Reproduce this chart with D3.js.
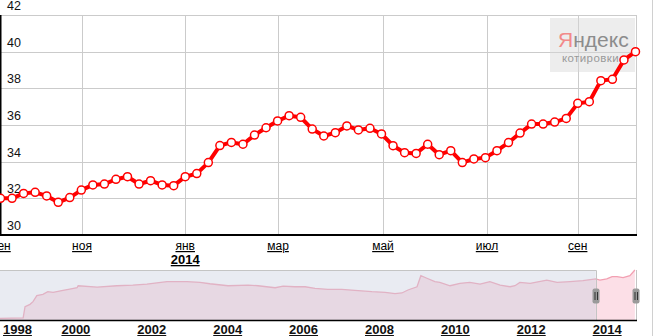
<!DOCTYPE html>
<html>
<head>
<meta charset="utf-8">
<script src="https://cdn.jsdelivr.net/npm/d3@7"></script>
<style>
  body { margin: 0; background: #fff; }
  svg { display: block; font-family: Arial, "Liberation Sans", sans-serif; }
</style>
</head>
<body>
<svg width="657" height="336"></svg>
<script>
// weekly quotes, Sep 2013 - Sep 2014
const rates = [32.0, 32.0, 32.27, 32.33, 32.13, 31.78, 32.04, 32.45, 32.73, 32.78,
  33.04, 33.18, 32.78, 32.96, 32.73, 32.69, 33.18, 33.35, 33.95, 34.88,
  35.05, 34.95, 35.45, 35.85, 36.22, 36.51, 36.42, 35.78, 35.4, 35.58,
  35.95, 35.73, 35.82, 35.51, 34.87, 34.49, 34.45, 34.95, 34.38, 34.6,
  33.95, 34.15, 34.22, 34.6, 35.04, 35.56, 36.05, 36.05, 36.16, 36.36,
  37.18, 37.27, 38.42, 38.49, 39.55, 40.0];
const monthLabels = ['сен', 'ноя', 'янв', 'мар', 'май', 'июл', 'сен'];
const monthPos = [0.05, 7.06, 16, 24.04, 33.13, 42.14, 50]; // week index
const yTicks = [30, 32, 34, 36, 38, 40, 42];

// navigator, whole history
const navYears = [1998.0, 1998.61, 1998.66, 1998.79, 1998.87, 1998.97, 1999.13, 1999.26, 1999.4, 1999.66,
  1999.84, 2000.03, 2000.06, 2000.56, 2001.08, 2001.5, 2001.87, 2002.4, 2002.93, 2003.27,
  2003.53, 2004.01, 2004.54, 2004.8, 2005.25, 2005.46, 2005.77, 2006.04, 2006.3, 2006.64,
  2007.01, 2007.35, 2007.8, 2008.15, 2008.41, 2008.59, 2008.75, 2008.99, 2009.09, 2009.25,
  2009.46, 2009.59, 2009.86, 2010.12, 2010.38, 2010.65, 2010.91, 2011.18, 2011.44, 2011.57,
  2011.7, 2011.97, 2012.41, 2012.68, 2013.02, 2013.36, 2013.7, 2013.81, 2013.99, 2014.13,
  2014.26, 2014.42, 2014.6, 2014.73];
const navValues = [5.96, 6.2, 14.1, 15.8, 17.7, 21.9, 22.9, 24.7, 24.3, 25.7,
  26.6, 27.5, 28.9, 28.0, 28.9, 29.4, 30.1, 31.8, 31.8, 31.3,
  30.3, 28.9, 29.4, 28.9, 27.5, 28.7, 28.2, 28.2, 27.1, 26.4,
  26.4, 25.7, 24.7, 24.3, 23.3, 23.8, 25.9, 28.2, 35.98, 34.2,
  31.8, 31.3, 28.9, 30.6, 31.3, 30.1, 31.8, 29.4, 28.2, 28.9,
  31.3, 30.6, 32.9, 31.3, 31.8, 32.5, 33.7, 32.9, 33.7, 35.3,
  35.3, 34.6, 36.0, 40.0];
const navTicks = [1998, 2000, 2002, 2004, 2006, 2008, 2010, 2012, 2014];
const selection = [2013.7, 2014.76];

const svg = d3.select('svg');
const W = 636;

const x = d3.scaleLinear().domain([0, rates.length - 1]).range([0.5, 635.5]);
const y = d3.scaleLinear().domain([30, 42]).range([235, 15]);

// grid
const grid = svg.append('g').attr('stroke', '#cbcbcb').attr('stroke-width', 1);
grid.selectAll('.h').data(yTicks.slice(1)).enter().append('line')
  .attr('x1', 0).attr('x2', W)
  .attr('y1', d => Math.round(y(d)) + 0.5).attr('y2', d => Math.round(y(d)) + 0.5);
grid.selectAll('.v').data(monthPos.slice(1)).enter().append('line')
  .attr('x1', d => Math.round(x(d)) + 0.5).attr('x2', d => Math.round(x(d)) + 0.5)
  .attr('y1', y(42)).attr('y2', y(30));
grid.append('line').attr('x1', W + 0.5).attr('x2', W + 0.5).attr('y1', y(42)).attr('y2', y(30));
svg.append('line').attr('x1', 652.5).attr('x2', 652.5).attr('y1', 0).attr('y2', 336)
  .attr('stroke', '#d0d0d0');

// y labels inside the plot
svg.append('g').selectAll('text').data(yTicks).enter().append('text')
  .attr('x', 7).attr('y', d => y(d) - 5)
  .attr('font-size', 12.5).attr('fill', '#111')
  .text(d => d);

// watermark
const wm = svg.append('g');
wm.append('rect').attr('x', 550).attr('y', 18).attr('width', 85).attr('height', 54)
  .attr('fill', '#d8d8d8').attr('opacity', 0.45);
const ya = wm.append('text').attr('x', 558).attr('y', 47).attr('font-size', 21);
ya.append('tspan').attr('fill', '#f28a8a').text('Я');
ya.append('tspan').attr('fill', '#8c8c8c').text('ндекс');
wm.append('text').attr('x', 562).attr('y', 62).attr('font-size', 11.5)
  .attr('fill', '#999').attr('letter-spacing', 0.4).text('котировки');

// axes lines
svg.append('line').attr('x1', 0.75).attr('x2', 0.75).attr('y1', 15).attr('y2', 235)
  .attr('stroke', '#000').attr('stroke-width', 1.5);
svg.append('line').attr('x1', 0).attr('x2', W + 1).attr('y1', 235).attr('y2', 235)
  .attr('stroke', '#000').attr('stroke-width', 2);

// series
const line = d3.line().x((d, i) => x(i)).y(d => y(d));
svg.append('path').datum(rates).attr('d', line)
  .attr('fill', 'none').attr('stroke', '#ff0000').attr('stroke-width', 4)
  .attr('stroke-linejoin', 'round');
svg.append('g').selectAll('circle').data(rates).enter().append('circle')
  .attr('cx', (d, i) => x(i)).attr('cy', d => y(d)).attr('r', 4)
  .attr('fill', '#fff').attr('stroke', '#ff0000').attr('stroke-width', 1.5);

// month labels
const mt = svg.append('g').attr('font-size', 12).attr('fill', '#000')
  .attr('text-anchor', 'middle').attr('text-decoration', 'underline');
mt.selectAll('text').data(monthLabels).enter().append('text')
  .attr('x', (d, i) => x(monthPos[i])).attr('y', 250).text(d => d);
mt.append('text').attr('x', x(16)).attr('y', 264)
  .attr('font-weight', 'bold').attr('font-size', 13).text('2014');

// navigator
const nx = d3.scaleLinear().domain([1998, 2014.76]).range([0, W]);
const ny = d3.scaleLinear().domain([5.96, 40]).range([318.3, 270]);
const navData = navYears.map((t, i) => [t, navValues[i]]);
svg.append('path').datum(navData)
  .attr('d', d3.area().x(d => nx(d[0])).y0(320).y1(d => ny(d[1])))
  .attr('fill', '#fcdfe7');
svg.append('path').datum(navData)
  .attr('d', d3.line().x(d => nx(d[0])).y(d => ny(d[1])))
  .attr('fill', 'none').attr('stroke', '#f2a0b2').attr('stroke-width', 1.3);
const s0 = nx(selection[0]), s1 = nx(selection[1]);
svg.append('rect').attr('x', 0).attr('y', 270).attr('width', s0).attr('height', 50)
  .attr('fill', 'rgb(200,206,222)').attr('opacity', 0.4);
svg.append('path')
  .attr('d', `M0,270.5H${Math.round(s0) + 0.5}V320 M${W + 0.5},270V320`)
  .attr('fill', 'none').attr('stroke', '#c4c4c4');
svg.append('line').attr('x1', 0).attr('x2', W + 1).attr('y1', 320.5).attr('y2', 320.5)
  .attr('stroke', '#000').attr('stroke-width', 1.5);

// handles
const hg = svg.append('g').selectAll('g').data([s0, s1]).enter().append('g')
  .attr('transform', d => `translate(${Math.round(d)},296)`);
hg.append('rect').attr('x', -3.5).attr('y', -7.5).attr('width', 7).attr('height', 15)
  .attr('rx', 2).attr('fill', '#9a9a9a');
hg.append('path').attr('d', 'M-1,-4V4 M1.5,-4V4').attr('stroke', '#333').attr('stroke-width', 1);

// year labels
svg.append('g').attr('font-size', 13).attr('font-weight', 'bold').attr('fill', '#111')
  .attr('text-decoration', 'underline')
  .selectAll('text').data(navTicks).enter().append('text')
  .attr('x', d => d === 1998 ? 3 : nx(d))
  .attr('text-anchor', d => d === 1998 ? 'start' : 'middle')
  .attr('y', 334).text(d => d);
</script>
</body>
</html>
